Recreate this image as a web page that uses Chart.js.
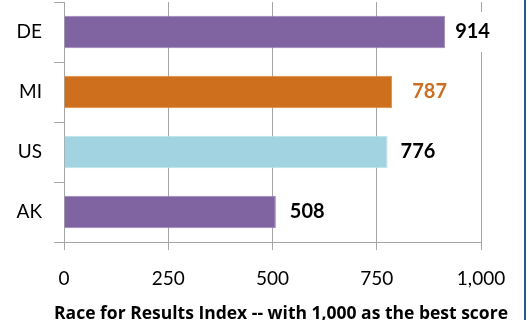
<!DOCTYPE html>
<html>
<head>
<meta charset="utf-8">
<script src="https://cdn.jsdelivr.net/npm/chart.js@4.4.1/dist/chart.umd.min.js"></script>
<style>
  body { margin: 0; background: #fff; }
  #wrap { width: 524px; height: 320px; border-right: 2px solid #2F5597; position: relative; }
  #axisTitle {
    position: absolute; left: 0; top: 302px; width: 562px;
    text-align: center; white-space: nowrap;
    font: bold 17.5px/20px "Open Sans", Lato, sans-serif; color: #000;
  }
</style>
</head>
<body>
<div id="wrap">
  <canvas id="raceChart" width="524" height="320"></canvas>
  <div id="axisTitle">Race for Results Index -- with 1,000 as the best score</div>
</div>
<script>
// Race for Results index by place
var places = ['DE', 'MI', 'US', 'AK'];
var scores = [914, 787, 776, 508];
var xTicks = [0, 250, 500, 750, 1000];

var barColors = ['#8064A2', '#CD6F1C', '#A1D3E1', '#8064A2'];
var barEdges  = ['#9B86B8', '#E08A40', '#BCE2EC', '#9B86B8'];
var labelColors = ['#000000', '#CC6F22', '#000000', '#000000'];
var labelGap = [10, 20, 13, 14];

var FONT = 'Lato, "Liberation Sans", sans-serif';
var GRID = '#A6A6A6';

// value labels next to each bar, on a white patch so grid lines break behind them
var valueLabels = {
  id: 'valueLabels',
  afterDatasetsDraw: function(chart) {
    var ctx = chart.ctx;
    var meta = chart.getDatasetMeta(0);
    ctx.save();
    ctx.font = 'bold 20px ' + FONT;
    ctx.textBaseline = 'middle';
    ctx.textAlign = 'left';
    meta.data.forEach(function(bar, i) {
      var txt = String(scores[i]);
      var x = bar.x + labelGap[i];
      var w = ctx.measureText(txt).width;
      ctx.fillStyle = '#fff';
      ctx.fillRect(x - 3, bar.y - 20, w + 6, 40);
      ctx.fillStyle = labelColors[i];
      ctx.fillText(txt, x, bar.y);
    });
    ctx.restore();
  }
};

var ctx = document.getElementById('raceChart').getContext('2d');
new Chart(ctx, {
  type: 'bar',
  data: {
    labels: places,
    datasets: [{
      data: scores,
      backgroundColor: barColors,
      borderColor: barEdges,
      borderWidth: 1,
      barPercentage: 0.54,
      categoryPercentage: 1
    }]
  },
  options: {
    indexAxis: 'y',
    responsive: false,
    animation: false,
    layout: { padding: { top: 2, right: 43, left: 0, bottom: 0 } },
    plugins: { legend: { display: false }, tooltip: { enabled: false } },
    scales: {
      x: {
        min: 0,
        max: 1000,
        afterBuildTicks: function(axis) {
          axis.ticks = xTicks.map(function(v) { return { value: v }; });
        },
        grid: { color: GRID, lineWidth: 1, tickLength: 8 },
        border: { color: GRID },
        ticks: {
          color: '#000',
          font: { family: FONT, size: 19 },
          padding: 17,
          maxRotation: 0,
          callback: function(v) { return v.toLocaleString('en-US'); }
        },
        afterFit: function(axis) { axis.height = 78; }
      },
      y: {
        grid: { color: GRID, drawOnChartArea: false, tickLength: 10, offset: true },
        border: { color: GRID },
        ticks: {
          color: '#000',
          font: { family: FONT, size: 19 },
          padding: 12
        },
        afterFit: function(axis) {
          axis.width = 64;
          axis.paddingTop = 0;
          axis.paddingBottom = 0;
        }
      }
    }
  },
  plugins: [valueLabels]
});
</script>
</body>
</html>
